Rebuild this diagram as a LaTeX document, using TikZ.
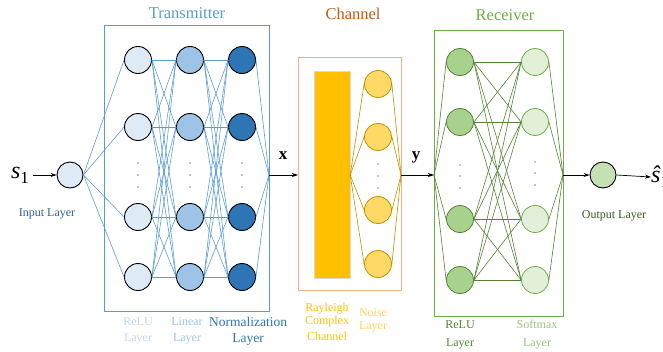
\documentclass[tikz,border=0pt]{standalone}
\usepackage{fontspec}
\setmainfont{Liberation Serif}
\usetikzlibrary{arrows.meta}
\definecolor{tblue}{HTML}{5B9BD5}
\definecolor{trelu}{HTML}{DEEBF7}
\definecolor{tlin}{HTML}{9DC3E6}
\definecolor{tnorm}{HTML}{2E75B6}
\definecolor{tlabrelu}{HTML}{BDD7EE}
\definecolor{inlab}{HTML}{2F5F8A}
\definecolor{chbox}{HTML}{F4B183}
\definecolor{chtitle}{HTML}{C55A11}
\definecolor{chrect}{HTML}{FFC000}
\definecolor{noisefill}{HTML}{FFD966}
\definecolor{noiseedge}{HTML}{BF9000}
\definecolor{rgreen}{HTML}{70AD47}
\definecolor{rdark}{HTML}{548235}
\definecolor{rrelu}{HTML}{A9D18E}
\definecolor{rsoft}{HTML}{E2F0D9}
\definecolor{routfill}{HTML}{C5E0B4}
\definecolor{outlab}{HTML}{385723}
\tikzset{
  neuron/.style={circle,draw=black,line width=0.9pt,minimum size=27pt,inner sep=0pt},
  tedge/.style={draw=tblue,line width=0.6pt},
  nedge/.style={draw=noiseedge,line width=0.6pt},
  redge/.style={draw=rdark,line width=0.6pt},
  lab/.style={font=\fontsize{12}{13}\selectfont,inner sep=0pt,align=center},
  ttl/.style={font=\fontsize{16.5}{18}\selectfont,inner sep=0pt},
  arr/.style={-{Stealth[length=6pt,width=4pt]},line width=0.7pt,draw=black}
}
\begin{document}
\begin{tikzpicture}[x=1pt,y=-1pt]
\useasboundingbox (0,0) rectangle (663,351);
% ---------- Transmitter ----------
\node[ttl,text=tblue] (ttitle) at (187,13) {Transmitter};
\draw[tblue,line width=0.8pt] (104,25) rectangle (269,311);
\node[neuron,fill=trelu,minimum size=26pt] (in) at (70,175) {};
\node[font=\fontsize{24}{24}\selectfont\itshape,inner sep=0pt] (s1) at (20,175) {s\raisebox{-5pt}{\upshape\fontsize{17}{17}\selectfont 1}};
\node[lab,text=inlab] (inlab) at (47,214) {Input Layer};
\draw[arr] (s1.east) ++(4,0) coordinate (s1e) (s1e) -- (in.west);
\foreach \i/\y in {1/60,2/127,3/217,4/277}{
  \node[neuron,fill=trelu] (r\i) at (138,\y) {};
  \node[neuron,fill=tlin] (l\i) at (190,\y) {};
  \node[neuron,fill=tnorm] (n\i) at (242,\y) {};
}
\foreach \x in {138,190,242}{
  \foreach \y in {163,175,187}{ \fill (\x,\y) circle (0.6pt); }
}
\coordinate (tout) at (269,175);
\foreach \i in {1,...,4}{
  \draw[tedge] (in.east) -- (r\i.west);
  \draw[tedge] (n\i.east) -- (tout);
  \foreach \j in {1,...,4}{
    \draw[tedge] (r\i.east) -- (l\j.west);
    \draw[tedge] (l\i.east) -- (n\j.west);
  }
}
\node[lab,text=tlabrelu] (lr) at (138,331) {ReLU\\[3pt]Layer};
\node[lab,text=tlin] (ll) at (187,331) {Linear\\[3pt]Layer};
\node[lab,text=tnorm,font=\fontsize{13.5}{14}\selectfont] (ln) at (248,331) {Normalization\\[2pt]Layer};
% ---------- Channel ----------
\node[ttl,text=chtitle] (ctitle) at (353,14) {Channel};
\draw[chbox,line width=0.8pt] (298,57) rectangle (401,290);
\node[draw=black!15,fill=chrect,minimum width=36pt,minimum height=207pt,inner sep=0pt] (rect) at (332,175) {};
\foreach \i/\y in {1/84,2/137,3/210,4/264}{
  \node[neuron,fill=noisefill,draw=noiseedge,line width=0.8pt] (z\i) at (378,\y) {};
}
\foreach \y in {164,176,188}{ \fill (378,\y) circle (0.6pt); }
\coordinate (cin) at (298,175);
\coordinate (cout) at (401,175);
\foreach \i in {1,...,4}{
  \draw[nedge] (rect.east) -- (z\i.west);
  \draw[nedge] (z\i.east) -- (cout);
}
\node[font=\fontsize{17}{17}\selectfont\bfseries,inner sep=0pt] (xl) at (283,156) {x};
\draw[arr] (tout) -- (cin);
\node[lab,text=chrect] (lray) at (327,322) {Rayleigh\\Complex\\[3pt]Channel};
\node[lab,text=noisefill!80!chrect] (lnoise) at (373,320) {Noise\\Layer};
% ---------- Receiver ----------
\node[ttl,text=rgreen] (rtitle) at (505,15) {Receiver};
\draw[rgreen,line width=0.8pt] (434,30) rectangle (563,316);
\foreach \i/\y in {1/62,2/122,3/219,4/280}{
  \node[neuron,fill=rrelu,draw=rdark,line width=0.8pt] (a\i) at (460,\y) {};
  \node[neuron,fill=rsoft,draw=rgreen,line width=0.8pt] (b\i) at (535,\y) {};
}
\foreach \y in {165,176,188}{ \fill (460,\y) circle (0.6pt); }
\foreach \y in {162,173,185}{ \fill (535,\y) circle (0.6pt); }
\coordinate (rin) at (434,175);
\coordinate (rout) at (563,175);
\foreach \i in {1,...,4}{
  \draw[redge] (rin) -- (a\i.west);
  \draw[redge] (b\i.east) -- (rout);
  \foreach \j in {1,...,4}{
    \draw[redge] (a\i.east) -- (b\j.west);
  }
}
\node[font=\fontsize{17}{17}\selectfont\bfseries,inner sep=0pt] (yl) at (416,157) {y};
\draw[arr] (cout) -- (rin);
\node[neuron,fill=routfill,minimum size=26pt] (out) at (603,175) {};
\draw[arr] (rout) -- (out.west);
\node[font=\fontsize{24}{24}\selectfont\itshape,inner sep=0pt,anchor=west] (shat) at (651,177) {\^{s}\raisebox{-5pt}{\upshape\fontsize{17}{17}\selectfont 1}};
\draw[arr] (out.east) -- (shat.west);
\node[lab,text=outlab] (outl) at (614,216) {Output Layer};
\node[lab,text=rdark] (lrr) at (460,335) {ReLU\\[5pt]Layer};
\node[lab,text=rrelu!80!rdark] (lsm) at (537,335) {Softmax\\[5pt]Layer};
\end{tikzpicture}
\end{document}
